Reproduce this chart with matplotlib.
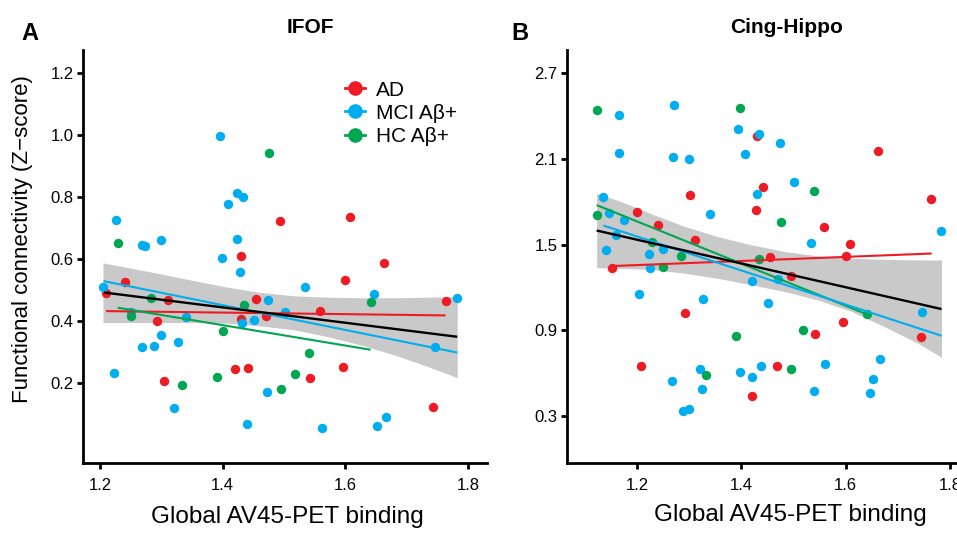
import matplotlib
matplotlib.use('Agg')
import matplotlib.pyplot as plt
import matplotlib.lines as mlines

plt.rcParams['font.family'] = ['Liberation Sans', 'DejaVu Sans']

# colours used in the figure
red = '#ED1C24'
blue = '#00AEEF'
green = '#00A651'
band_col = '#C9C9C9'

#=========Panel A: IFOF========
ifof_ad_x = [1.494, 1.608, 1.430, 1.663, 1.600, 1.763, 1.210, 1.241, 1.311, 1.293,
             1.304, 1.455, 1.430, 1.470, 1.559, 1.420, 1.442, 1.596, 1.543, 1.743]
ifof_ad_y = [0.722, 0.735, 0.609, 0.585, 0.531, 0.465, 0.489, 0.524, 0.467, 0.400,
             0.205, 0.469, 0.405, 0.414, 0.431, 0.244, 0.246, 0.251, 0.216, 0.122]

ifof_mci_x = [1.395, 1.423, 1.433, 1.408, 1.227, 1.268, 1.273, 1.299, 1.423, 1.399,
              1.428, 1.534, 1.647, 1.781, 1.205, 1.250, 1.341, 1.299, 1.268, 1.288,
              1.327, 1.223, 1.321, 1.473, 1.431, 1.451, 1.502, 1.746, 1.472, 1.439,
              1.561, 1.652, 1.666]
ifof_mci_y = [0.998, 0.812, 0.799, 0.776, 0.725, 0.645, 0.642, 0.660, 0.663, 0.604,
              0.558, 0.510, 0.485, 0.472, 0.508, 0.427, 0.411, 0.354, 0.314, 0.318,
              0.332, 0.232, 0.117, 0.468, 0.394, 0.402, 0.428, 0.316, 0.171, 0.066,
              0.052, 0.061, 0.088]

ifof_hc_x = [1.475, 1.229, 1.641, 1.284, 1.250, 1.435, 1.400, 1.540, 1.333, 1.391, 1.518, 1.495]
ifof_hc_y = [0.941, 0.650, 0.459, 0.472, 0.416, 0.451, 0.368, 0.295, 0.192, 0.217, 0.227, 0.179]

# regression lines (start/end) and confidence band of the pooled fit
ifof_all_fit_x = [1.207, 1.782]
ifof_all_fit_y = [0.491, 0.348]
ifof_mci_fit_x = [1.206, 1.782]
ifof_mci_fit_y = [0.528, 0.297]
ifof_ad_fit_x = [1.210, 1.763]
ifof_ad_fit_y = [0.431, 0.417]
ifof_hc_fit_x = [1.229, 1.641]
ifof_hc_fit_y = [0.442, 0.306]

ifof_band_x = [1.205, 1.300, 1.354, 1.409, 1.463, 1.518, 1.572, 1.626, 1.680, 1.735, 1.782]
ifof_band_hi = [0.587, 0.551, 0.529, 0.508, 0.491, 0.480, 0.476, 0.474, 0.474, 0.476, 0.478]
ifof_band_lo = [0.394, 0.394, 0.394, 0.392, 0.383, 0.370, 0.348, 0.321, 0.289, 0.251, 0.216]

#=========Panel B: Cing-Hippo========
hippo_ad_x = [1.429, 1.663, 1.441, 1.302, 1.764, 1.428, 1.199, 1.239, 1.558, 1.311, 1.609,
              1.151, 1.455, 1.601, 1.495, 1.291, 1.595, 1.542, 1.744, 1.208, 1.469, 1.420]
hippo_ad_y = [2.261, 2.156, 1.902, 1.846, 1.820, 1.743, 1.729, 1.636, 1.624, 1.535, 1.507,
              1.334, 1.414, 1.423, 1.281, 1.019, 0.961, 0.874, 0.851, 0.652, 0.650, 0.438]

hippo_mci_x = [1.164, 1.271, 1.394, 1.434, 1.473, 1.164, 1.268, 1.299, 1.407, 1.501,
               1.430, 1.135, 1.145, 1.340, 1.174, 1.783, 1.159, 1.533, 1.140, 1.222,
               1.249, 1.225, 1.421, 1.471, 1.204, 1.326, 1.450, 1.747, 1.561, 1.666,
               1.438, 1.320, 1.398, 1.421, 1.653, 1.267, 1.324, 1.540, 1.647, 1.287, 1.299]
hippo_mci_y = [2.408, 2.478, 2.310, 2.275, 2.214, 2.144, 2.116, 2.100, 2.135, 1.941,
               1.853, 1.834, 1.724, 1.713, 1.671, 1.594, 1.565, 1.514, 1.463, 1.432,
               1.467, 1.334, 1.248, 1.257, 1.154, 1.119, 1.091, 1.028, 0.664, 0.699,
               0.648, 0.629, 0.606, 0.575, 0.557, 0.543, 0.487, 0.475, 0.463, 0.335, 0.349]

hippo_hc_x = [1.123, 1.398, 1.540, 1.122, 1.475, 1.228, 1.249, 1.283, 1.434, 1.641, 1.390, 1.518, 1.332, 1.496]
hippo_hc_y = [2.441, 2.455, 1.874, 1.708, 1.659, 1.519, 1.346, 1.421, 1.397, 1.014, 0.858, 0.900, 0.585, 0.629]

hippo_all_fit_x = [1.122, 1.784]
hippo_all_fit_y = [1.599, 1.049]
hippo_mci_fit_x = [1.135, 1.784]
hippo_mci_fit_y = [1.634, 0.862]
hippo_ad_fit_x = [1.151, 1.765]
hippo_ad_fit_y = [1.350, 1.438]
hippo_hc_fit_x = [1.122, 1.642]
hippo_hc_fit_y = [1.777, 1.010]

hippo_band_x = [1.122, 1.164, 1.228, 1.292, 1.355, 1.420, 1.484, 1.547, 1.612, 1.675, 1.739, 1.784]
hippo_band_hi = [1.860, 1.808, 1.715, 1.626, 1.556, 1.498, 1.451, 1.421, 1.404, 1.397, 1.393, 1.393]
hippo_band_lo = [1.339, 1.334, 1.327, 1.299, 1.264, 1.218, 1.171, 1.112, 1.031, 0.925, 0.809, 0.711]

group_names = ['AD', 'MCI A\u03b2+', 'HC A\u03b2+']
x_ticks = [1.2, 1.4, 1.6, 1.8]
ifof_yticks = [0.2, 0.4, 0.6, 0.8, 1.0, 1.2]
hippo_yticks = [0.3, 0.9, 1.5, 2.1, 2.7]

W, H = 957, 535
fig = plt.figure(figsize=(W / 100, H / 100), dpi=100)

# axes placed in pixel units of the reference figure
axA = fig.add_axes([82.7 / W, 1 - 463.3 / H, (486.7 - 82.7) / W, (463.3 - 50) / H])
axB = fig.add_axes([566.7 / W, 1 - 463.3 / H, (965.5 - 566.7) / W, (463.3 - 50) / H])


def draw_panel(ax, band, groups, fits):
    ax.fill_between(band[0], band[1], band[2], color=band_col, lw=0, zorder=1)
    for gx, gy, col in groups:
        ax.scatter(gx, gy, s=46, color=col, linewidths=0, zorder=2)
    for fx, fy, col, lw in fits:
        ax.plot(fx, fy, color=col, lw=lw, zorder=3, solid_capstyle='butt')
    for side in ['top', 'right']:
        ax.spines[side].set_visible(False)
    for side in ['left', 'bottom']:
        ax.spines[side].set_linewidth(2)
    ax.tick_params(width=2, length=4.5, labelsize=12, direction='out')
    ax.tick_params(axis='x', pad=6)
    ax.tick_params(axis='y', pad=2)
    ax.set_xticks(x_ticks)
    ax.set_xticklabels([str(t) for t in x_ticks])


draw_panel(axA,
           (ifof_band_x, ifof_band_lo, ifof_band_hi),
           [(ifof_ad_x, ifof_ad_y, red), (ifof_mci_x, ifof_mci_y, blue), (ifof_hc_x, ifof_hc_y, green)],
           [(ifof_ad_fit_x, ifof_ad_fit_y, red, 1.5), (ifof_hc_fit_x, ifof_hc_fit_y, green, 1.5),
            (ifof_mci_fit_x, ifof_mci_fit_y, blue, 1.5), (ifof_all_fit_x, ifof_all_fit_y, 'black', 1.7)])
axA.set_xlim(1.172, 1.83)
axA.set_ylim(-0.061, 1.275)
axA.set_yticks(ifof_yticks)
axA.set_yticklabels(['%.1f' % t for t in ifof_yticks])

draw_panel(axB,
           (hippo_band_x, hippo_band_lo, hippo_band_hi),
           [(hippo_ad_x, hippo_ad_y, red), (hippo_mci_x, hippo_mci_y, blue), (hippo_hc_x, hippo_hc_y, green)],
           [(hippo_ad_fit_x, hippo_ad_fit_y, red, 1.5), (hippo_hc_fit_x, hippo_hc_fit_y, green, 1.5),
            (hippo_mci_fit_x, hippo_mci_fit_y, blue, 1.5), (hippo_all_fit_x, hippo_all_fit_y, 'black', 1.7)])
axB.set_xlim(1.0645, 1.83)
axB.set_ylim(-0.031, 2.863)
axB.set_yticks(hippo_yticks)
axB.set_yticklabels(['%.1f' % t for t in hippo_yticks])

# legend (line + dot handles)
handles = [mlines.Line2D([], [], color=c, marker='o', markersize=9.5, lw=2, label=n)
           for c, n in zip([red, blue, green], group_names)]
axA.legend(handles=handles, loc='upper left', bbox_to_anchor=(0.649, 0.926), frameon=False,
           fontsize=15, borderpad=0, borderaxespad=0, handlelength=0.95, handletextpad=0.55,
           labelspacing=0.2)

# labels, titles, panel letters
fig.text(22.5 / W, 1 - 239 / H, 'Functional connectivity (Z\u2212score)', rotation=90,
         ha='center', va='center', fontsize=16)
fig.text(287.5 / W, 1 - 523 / H, 'Global AV45-PET binding', ha='center', va='baseline', fontsize=17.5)
fig.text(790 / W, 1 - 521.5 / H, 'Global AV45-PET binding', ha='center', va='baseline', fontsize=17.5)
fig.text(310 / W, 1 - 33.3 / H, 'IFOF', ha='center', va='baseline', fontsize=15, fontweight='bold')
fig.text(786.7 / W, 1 - 33.3 / H, 'Cing-Hippo', ha='center', va='baseline', fontsize=15, fontweight='bold')
fig.text(21 / W, 1 - 40 / H, 'A', ha='left', va='baseline', fontsize=17, fontweight='bold')
fig.text(511.5 / W, 1 - 40 / H, 'B', ha='left', va='baseline', fontsize=17, fontweight='bold')

plt.savefig('out.png', dpi=100)
